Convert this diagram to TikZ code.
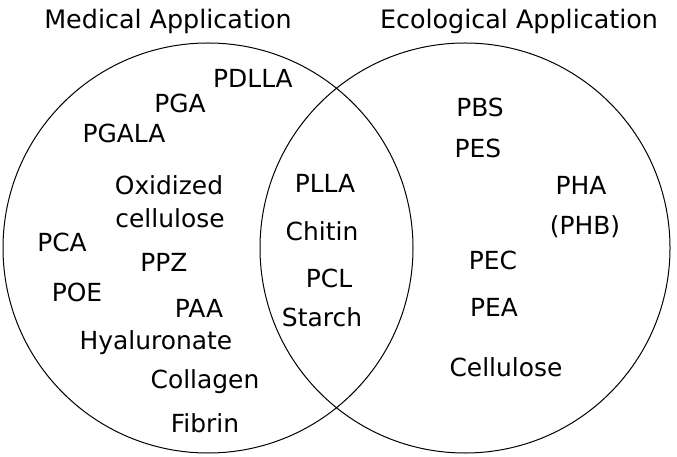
\documentclass[tikz,border=0pt]{standalone}
\usepackage{fontspec}
\setmainfont{DejaVu Sans}
\usetikzlibrary{positioning}

\begin{document}
\begin{tikzpicture}[
  x=1bp, y=-1bp,
  font=\fontsize{25}{30}\selectfont,
  ring/.style={draw=black, line width=1bp, circle, minimum size=410bp, inner sep=0pt},
  lbl/.style={inner sep=0pt, anchor=center},
  head/.style={lbl, font=\fontsize{25.5}{30}\selectfont}
]
  \useasboundingbox (0,0) rectangle (677,457);

  % the two sets
  \node[ring] (med) at (208,248) {};
  \node[ring] (eco) at (465,248) {};

  \node[head] (medT) at (168,21) {Medical Application};
  \node[head] (ecoT) at (519,21) {Ecological Application};

  % medical only
  \node[lbl] (pdlla) at (253,78)  {PDLLA};
  \node[lbl] (pga)   at (180,103) {PGA};
  \node[lbl] (pgala) at (124,133) {PGALA};
  \node[lbl] (oxi)   at (169,185) {Oxidized};
  \node[lbl] (oxc)   at (170,218) {cellulose};
  \node[lbl] (pca)   at (62,242)  {PCA};
  \node[lbl] (ppz)   at (164,262) {PPZ};
  \node[lbl] (poe)   at (77,292)  {POE};
  \node[lbl] (paa)   at (199,308) {PAA};
  \node[lbl] (hya)   at (156,343) {Hyaluronate};
  \node[lbl] (col)   at (205,382) {Collagen};
  \node[lbl] (fib)   at (205,423) {Fibrin};

  % both
  \node[lbl] (plla)  at (325,183) {PLLA};
  \node[lbl] (chi)   at (322,231) {Chitin};
  \node[lbl] (pcl)   at (329,278) {PCL};
  \node[lbl] (sta)   at (322,317) {Starch};

  % ecological only
  \node[lbl] (pbs)   at (480,107) {PBS};
  \node[lbl] (pes)   at (478,148) {PES};
  \node[lbl] (pha)   at (581,185) {PHA};
  \node[lbl] (phb)   at (585,227) {(PHB)};
  \node[lbl] (pec)   at (493,260) {PEC};
  \node[lbl] (pea)   at (494,307) {PEA};
  \node[lbl] (cel)   at (506,367) {Cellulose};
\end{tikzpicture}
\end{document}
